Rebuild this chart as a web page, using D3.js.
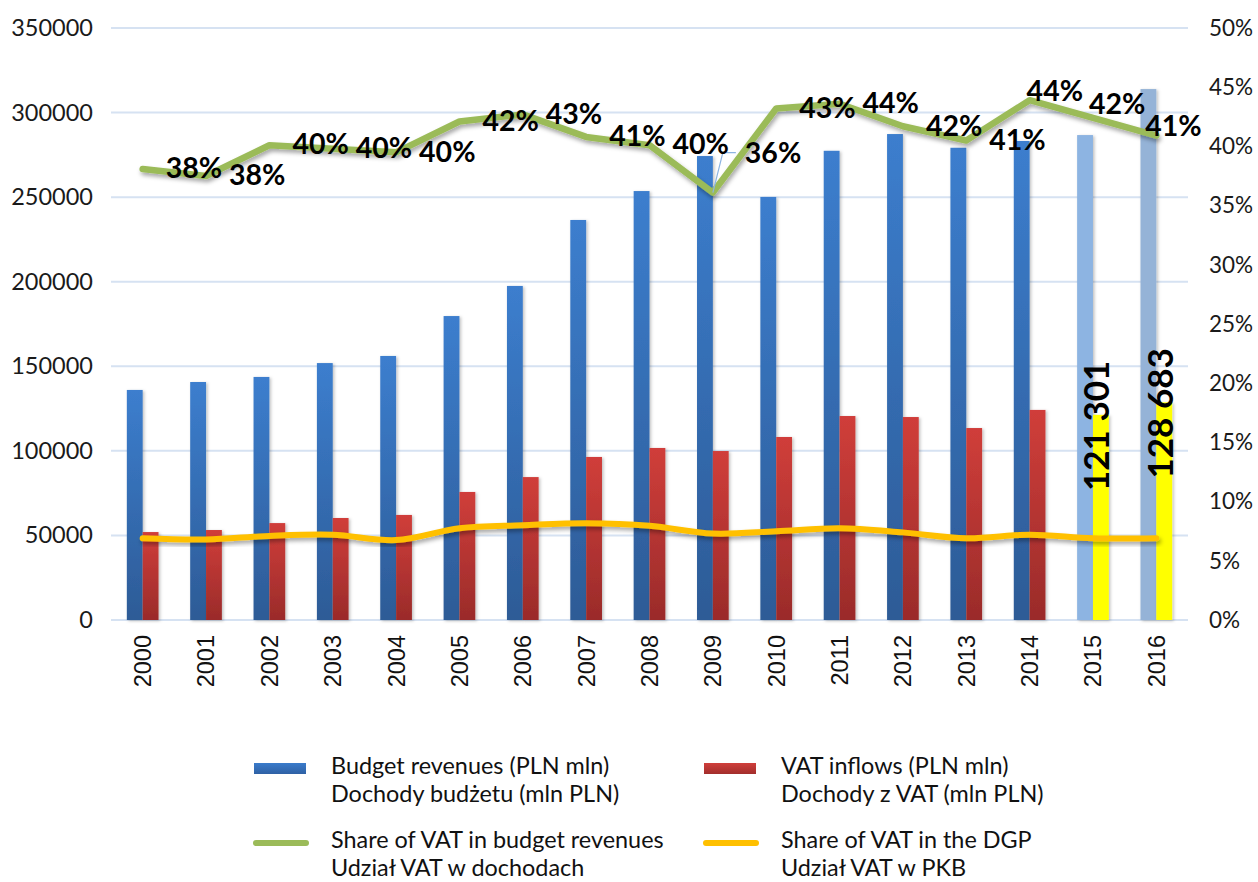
<!DOCTYPE html>
<html>
<head>
<meta charset="utf-8">
<script src="https://cdn.jsdelivr.net/npm/d3@7"></script>
<style>
  html, body { margin: 0; padding: 0; background: #fff; }
  svg { display: block; }
</style>
</head>
<body>
<svg id="chart" width="1258" height="882"></svg>
<script>
// ---------------- DATA ----------------
const years = ["2000","2001","2002","2003","2004","2005","2006","2007","2008","2009","2010","2011","2012","2013","2014","2015","2016"];
const budgetRevenues = [136000,140700,143700,151900,156100,179700,197500,236500,253600,274300,250100,277400,287300,279200,283200,286700,313900];
const vatInflows = [52000,53200,57300,60300,62100,75700,84500,96400,101700,99900,108200,120600,120000,113500,124200,121301,128683];
const vatShareBudget = [38.1,37.5,40.1,39.8,39.5,42.1,42.7,40.8,40.1,36.1,43.2,43.6,41.7,40.5,43.9,42.4,40.9];
const vatShareBudgetLabels = ["38%","38%","40%","40%","40%","42%","43%","41%","40%","36%","43%","44%","42%","41%","44%","42%","41%"];
const vatShareGdp = [6.9,6.8,7.1,7.2,6.75,7.75,8.0,8.17,7.96,7.3,7.5,7.75,7.4,6.9,7.2,6.9,6.9];
const barLabels = {"2015":"121 301","2016":"128 683"};
const leftTicks = [0,50000,100000,150000,200000,250000,300000,350000];
const rightTicks = [0,5,10,15,20,25,30,35,40,45,50];
const legendItems = [
  {key:"budget", lines:["Budget revenues (PLN mln)","Dochody budżetu (mln PLN)"]},
  {key:"vat", lines:["VAT inflows (PLN mln)","Dochody z VAT (mln PLN)"]},
  {key:"shareBudget", lines:["Share of VAT in budget revenues","Udział VAT w dochodach"]},
  {key:"shareGdp", lines:["Share of VAT in the DGP","Udział VAT w PKB"]}
];

// ---------------- LAYOUT / STYLE ----------------
const plot = {left:111, right:1188, top:28, bottom:620};
const labelNudge = {"2009":[32,-40], "2014":[-3,-9], "2015":[-4,-14], "2016":[-11,-10]};
const lightYears = {"2015":"#8DB4E2","2016":"#95B3D7"};

const svg = d3.select("#chart");
const defs = svg.append("defs");

function grad(id, top, bottom){
  const g = defs.append("linearGradient").attr("id", id).attr("x1",0).attr("y1",0).attr("x2",0).attr("y2",1);
  g.append("stop").attr("offset","0%").attr("stop-color",top);
  g.append("stop").attr("offset","100%").attr("stop-color",bottom);
}
grad("gBlue","#3C7ECE","#2D5B96");
grad("gRed","#D03E3A","#9A2B2A");
grad("gBlueLeg","#3A7BCB","#2F61A4");
grad("gRedLeg","#D03F3B","#A22E2C");

const sh = defs.append("filter").attr("id","shadow").attr("x","-20%").attr("y","-20%").attr("width","140%").attr("height","160%");
sh.append("feDropShadow").attr("dx",1.5).attr("dy",3).attr("stdDeviation",2.2).attr("flood-color","#000").attr("flood-opacity",0.35);
const shb = defs.append("filter").attr("id","shadowBar").attr("x","-30%").attr("y","-5%").attr("width","160%").attr("height","110%");
shb.append("feDropShadow").attr("dx",1.5).attr("dy",1).attr("stdDeviation",1.5).attr("flood-color","#000").attr("flood-opacity",0.25);

// ---------------- SCALES ----------------
const x = d3.scaleBand().domain(years).range([plot.left, plot.right]).padding(0);
const step = x.step();
const xs = d3.scaleBand().domain(["budget","vat"]).range([step*0.25, step*0.75]).padding(0);
const yL = d3.scaleLinear().domain([0,350000]).range([plot.bottom, plot.top]);
const yR = d3.scaleLinear().domain([0,50]).range([plot.bottom, plot.top]);
const cx = d => x(d) + step/2;

// ---------------- GRID ----------------
svg.append("g").selectAll("line").data(leftTicks).join("line")
  .attr("x1", plot.left).attr("x2", plot.right)
  .attr("y1", d => yL(d)).attr("y2", d => yL(d))
  .attr("stroke","#D6E2F2").attr("stroke-width",2);

// ---------------- AXES ----------------
const axL = svg.append("g").attr("transform",`translate(${plot.left},0)`)
  .call(d3.axisLeft(yL).tickValues(leftTicks).tickSize(0).tickPadding(18).tickFormat(d3.format("d")));
axL.select(".domain").remove();
axL.selectAll("text").attr("font-family","Lato").attr("font-size",23.5).attr("fill","#1a1a1a");

const axR = svg.append("g").attr("transform",`translate(${plot.right},0)`)
  .call(d3.axisRight(yR).tickValues(rightTicks).tickSize(0).tickPadding(21).tickFormat(d => d + "%"));
axR.select(".domain").remove();
axR.selectAll("text").attr("font-family","Lato").attr("font-size",22.5).attr("fill","#1a1a1a");

const axB = svg.append("g").attr("transform",`translate(0,${plot.bottom})`)
  .call(d3.axisBottom(x).tickSize(0).tickPadding(0));
axB.select(".domain").remove();
axB.selectAll("text")
  .attr("font-family","Liberation Sans, Arial").attr("font-size",23.5).attr("fill","#111")
  .attr("transform","rotate(-90)").attr("text-anchor","end")
  .attr("x",-15).attr("y",0).attr("dy","0.36em");

// ---------------- BARS ----------------
const bars = svg.append("g");
bars.selectAll("rect.b").data(years).join("rect").attr("class","b")
  .attr("x", d => x(d) + xs("budget")).attr("width", xs.bandwidth())
  .attr("y", (d,i) => yL(budgetRevenues[i])).attr("height", (d,i) => yL(0) - yL(budgetRevenues[i]))
  .attr("fill", d => lightYears[d] || "url(#gBlue)")
  .attr("filter","url(#shadowBar)");
bars.selectAll("rect.r").data(years).join("rect").attr("class","r")
  .attr("x", d => x(d) + xs("vat")).attr("width", xs.bandwidth())
  .attr("y", (d,i) => yL(vatInflows[i])).attr("height", (d,i) => yL(0) - yL(vatInflows[i]))
  .attr("fill", d => lightYears[d] ? "#FFFF00" : "url(#gRed)")
  .attr("filter","url(#shadowBar)");

// ---------------- LINES ----------------
const lineGdp = d3.line().x((d,i) => cx(years[i])).y(d => yR(d)).curve(d3.curveCatmullRom.alpha(0.5));
svg.append("path").datum(vatShareGdp).attr("d", lineGdp)
  .attr("fill","none").attr("stroke","#FFC000").attr("stroke-width",6)
  .attr("stroke-linecap","round").attr("stroke-linejoin","round").attr("filter","url(#shadow)");

const lineBud = d3.line().x((d,i) => cx(years[i])).y(d => yR(d));
svg.append("path").datum(vatShareBudget).attr("d", lineBud)
  .attr("fill","none").attr("stroke","#9BBB59").attr("stroke-width",6.5)
  .attr("stroke-linecap","round").attr("stroke-linejoin","round").attr("filter","url(#shadow)");

// leader line for moved label (2009)
{
  const i = years.indexOf("2009");
  const px = cx("2009"), py = yR(vatShareBudget[i]);
  const n = labelNudge["2009"];
  svg.append("path")
    .attr("d", `M${px},${py} L${px+10},${py+n[1]} L${px+n[0]-9},${py+n[1]}`)
    .attr("fill","none").attr("stroke","#8DB4E2").attr("stroke-width",1.2);
}

// ---------------- DATA LABELS ----------------
svg.append("g").selectAll("text").data(years).join("text")
  .attr("x", (d,i) => cx(d) + (labelNudge[d] ? labelNudge[d][0] : 23))
  .attr("y", (d,i) => yR(vatShareBudget[i]) + (labelNudge[d] ? labelNudge[d][1] : -1))
  .attr("dy","0.36em")
  .attr("font-family","Lato").attr("font-size",28.5).attr("font-weight",700).attr("fill","#000")
  .text((d,i) => vatShareBudgetLabels[i]);

svg.append("g").selectAll("text").data(years.filter(d => barLabels[d])).join("text")
  .attr("transform", d => {
    const i = years.indexOf(d);
    const bx = x(d) + xs("vat") + xs.bandwidth()/2 - 4;
    const by = yL(vatInflows[i]) + 11;
    return `translate(${bx},${by}) rotate(-90)`;
  })
  .attr("text-anchor","middle").attr("dy","0.36em")
  .attr("font-family","Lato").attr("font-size",35).attr("font-weight",700).attr("fill","#000")
  .text(d => barLabels[d]);

// ---------------- LEGEND ----------------
const legPos = {
  budget:{x:254, y:774}, vat:{x:704, y:774},
  shareBudget:{x:254, y:848}, shareGdp:{x:704, y:848}
};
const leg = svg.append("g");
legendItems.forEach(it => {
  const p = legPos[it.key];
  if (it.key === "budget" || it.key === "vat") {
    leg.append("rect").attr("x", p.x).attr("y", p.y - 11).attr("width", 52).attr("height", 11)
      .attr("fill", it.key === "budget" ? "url(#gBlueLeg)" : "url(#gRedLeg)");
  } else {
    leg.append("line").attr("x1", p.x + 2).attr("x2", p.x + 52).attr("y1", p.y - 5).attr("y2", p.y - 5)
      .attr("stroke", it.key === "shareBudget" ? "#9BBB59" : "#FFC000")
      .attr("stroke-width", 6).attr("stroke-linecap","round");
  }
  const t = leg.append("text").attr("font-family","Lato").attr("font-size",23.4).attr("fill","#111");
  it.lines.forEach((ln, k) => {
    t.append("tspan").attr("x", p.x + 77).attr("y", p.y + k*28).text(ln);
  });
});
</script>
</body>
</html>
